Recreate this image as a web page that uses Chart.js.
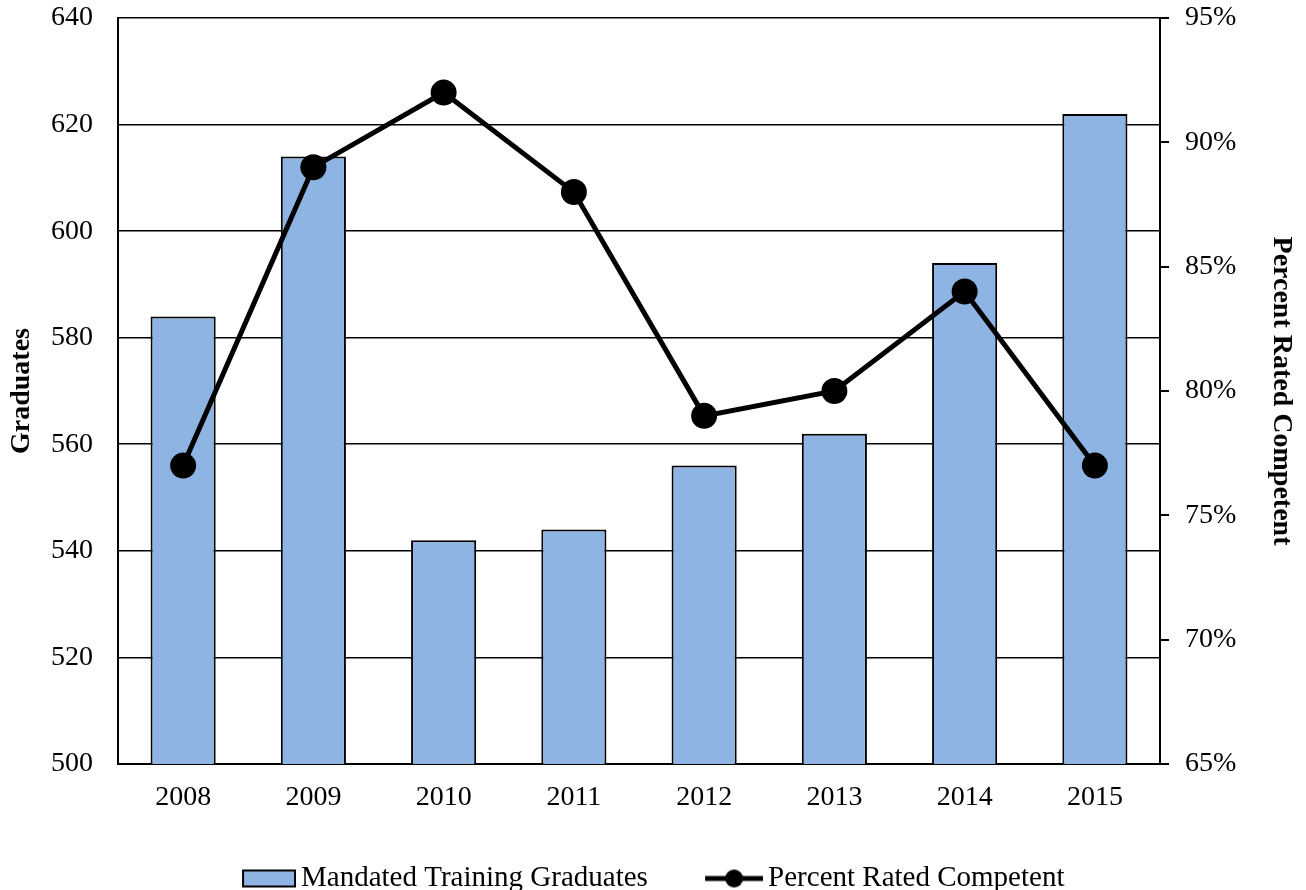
<!DOCTYPE html>
<html><head><meta charset="utf-8">
<script src="https://cdn.jsdelivr.net/npm/chart.js@4/dist/chart.umd.min.js"></script>
<style>html,body{margin:0;padding:0;background:#fff}</style>
</head><body>
<canvas id="c" width="1306" height="890"></canvas>
<script>
const categories = ['2008','2009','2010','2011','2012','2013','2014','2015'];
const graduates = [584, 614, 542, 544, 556, 562, 594, 622];
const percentCompetent = [77, 89, 92, 88, 79, 80, 84, 77];
const leftAxis = {min: 500, max: 640, step: 20};
const rightAxis = {min: 65, max: 95, step: 5};
const seriesNames = ['Mandated Training Graduates', 'Percent Rated Competent'];

const FONT = "'Liberation Serif', 'Times New Roman', serif";
const BAR_COLOR = '#8EB4E3';

function barIcon(){
  const c = document.createElement('canvas'); c.width = 64; c.height = 22;
  const x = c.getContext('2d');
  x.fillStyle = BAR_COLOR; x.fillRect(11,3,52,16);
  x.strokeStyle = '#000'; x.lineWidth = 2; x.strokeRect(11,3,52,16);
  return c;
}
function lineIcon(){
  const c = document.createElement('canvas'); c.width = 64; c.height = 22;
  const x = c.getContext('2d');
  x.strokeStyle = '#000'; x.lineWidth = 5;
  x.beginPath(); x.moveTo(6,11); x.lineTo(64,11); x.stroke();
  x.fillStyle = '#000'; x.beginPath(); x.arc(35,11,9,0,Math.PI*2); x.fill();
  return c;
}
const icons = [barIcon(), lineIcon()];

new Chart(document.getElementById('c'), {
  data: {
    labels: categories,
    datasets: [
      {
        type: 'line', label: seriesNames[1], data: percentCompetent, yAxisID: 'y1',
        borderColor: '#000', backgroundColor: '#000', borderWidth: 5,
        pointRadius: 13, pointHoverRadius: 13, pointBackgroundColor: '#000', pointBorderWidth: 0,
        tension: 0, order: 0
      },
      {
        type: 'bar', label: seriesNames[0], data: graduates, yAxisID: 'y',
        backgroundColor: BAR_COLOR, borderColor: '#000', borderWidth: 2,
        barPercentage: 0.5, categoryPercentage: 1.0, order: 1
      }
    ]
  },
  options: {
    responsive: false, animation: false,
    layout: {padding: {top: 0, bottom: -13, left: 0, right: 0}},
    plugins: {
      tooltip: {enabled: false},
      legend: {
        position: 'bottom',
        labels: {
          color: '#000', font: {family: FONT, size: 29},
          usePointStyle: true, pointStyleWidth: 45, padding: 10,
          generateLabels(chart){
            return [1,0].map((i, k) => ({
              text: chart.data.datasets[i].label + (k === 0 ? '       ' : ''),
              pointStyle: icons[k],
              datasetIndex: i, hidden: false, lineWidth: 0,
              fontColor: '#000'
            }));
          }
        }
      }
    },
    scales: {
      x: {
        type: 'category',
        grid: {display: false, drawTicks: false},
        border: {display: true, color: '#000', width: 2},
        ticks: {color: '#000', font: {family: FONT, size: 28}, padding: 17},
        afterFit(s){ s.height = 90; }
      },
      y: {
        position: 'left', min: leftAxis.min, max: leftAxis.max,
        ticks: {stepSize: leftAxis.step, color: '#000', font: {family: FONT, size: 28}, padding: 25},
        grid: {color: '#000', lineWidth: 1.6, drawTicks: false},
        border: {display: true, color: '#000', width: 2},
        title: {display: true, text: 'Graduates', color: '#000', font: {family: FONT, size: 28, weight: 'bold'}, padding: {top: 5, bottom: 0}},
        afterFit(s){ s.width = 118; s.paddingTop = 18; s.paddingBottom = 0; }
      },
      y1: {
        position: 'right', min: rightAxis.min, max: rightAxis.max,
        ticks: {stepSize: rightAxis.step, color: '#000', font: {family: FONT, size: 28}, padding: 16,
          callback: v => v + '%'},
        grid: {drawOnChartArea: false, drawTicks: true, tickLength: 9, color: '#000', lineWidth: 2},
        border: {display: true, color: '#000', width: 2},
        title: {display: true, text: 'Percent Rated Competent', color: '#000', font: {family: FONT, size: 28, weight: 'bold'}, padding: {top: 8, bottom: 0}},
        afterFit(s){ s.width = 146; s.paddingTop = 18; s.paddingBottom = 0; }
      }
    }
  }
});
</script>
</body></html>
